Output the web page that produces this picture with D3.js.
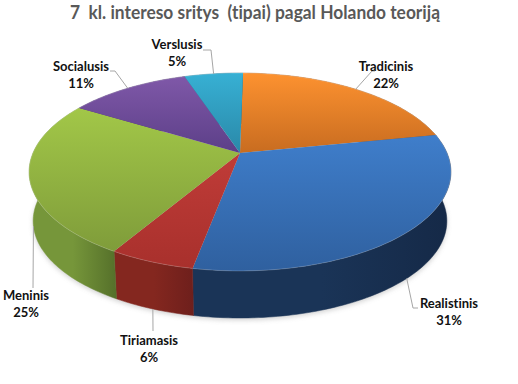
<!DOCTYPE html>
<html>
<head>
<meta charset="utf-8">
<script src="https://cdn.jsdelivr.net/npm/d3@7/dist/d3.min.js"></script>
<style>
	html, body { margin: 0; padding: 0; background: #fff; }
	svg { display: block; }
	text { font-family: Lato, "Open Sans", sans-serif; font-variant-ligatures: none; white-space: pre; }
	.title { font-size: 18.4px; font-weight: 700; fill: #595959; text-anchor: middle; }
	.label { font-size: 13px; font-weight: 700; fill: #111; text-anchor: middle; }
	.leader { fill: none; stroke: #a6a6a6; stroke-width: 1; }
</style>
</head>
<body>
<div id="chart"></div>
<script>
const title = '7  kl. intereso sritys  (tipai) pagal Holando teoriją';
const categories = ['Tradicinis', 'Realistinis', 'Tiriamasis', 'Meninis', 'Socialusis', 'Verslusis'];
const values = [21.6, 31.1, 5.5, 25.2, 11.2, 5.4];

// top gradient start, top gradient end, wall dark, wall light
const slice_colors = [
	['#fd9230', '#c86c20', '#8a4a14', '#a65a1a'],
	['#3f7ecb', '#2f609f', '#152947', '#1a3457'],
	['#c03c38', '#a8302c', '#6e1f1c', '#84271f'],
	['#a2c748', '#7f9c3a', '#55702a', '#76963a'],
	['#7f58a8', '#5c3f88', '#3e2a5c', '#4e3672'],
	['#37b0d4', '#2a88a8', '#1c5d74', '#257a94']
];

// label centre and the elbow of the leader line, in page pixels
const label_layout = [
	{x: 386, y: 71, elbow: [[372, 71], [375, 71]]},
	{x: 449, y: 308, elbow: [[413, 308], [418, 308]]},
	{x: 149, y: 345, elbow: [[153, 331]]},
	{x: 26, y: 300, elbow: [[33, 288]]},
	{x: 81, y: 71, elbow: [[115, 71], [110, 71]]},
	{x: 177, y: 49, elbow: [[211, 50], [203, 50]]}
];

const WIDTH = 518;
const HEIGHT = 384;
const START_ANGLE = Math.PI / 180;

// perspective of the pie disc: the apex sits above the centre of the rim ellipse
const PERSPECTIVE = 0.192;
const disc_top = {cx: 240, apex_y: 153, fx: 207, fy: 95.3};
const disc_bottom = {cx: 240, apex_y: 202.4, fx: 203, fy: 93.4};

const svg = d3.select('#chart')
	.append('svg')
	.attr('width', WIDTH)
	.attr('height', HEIGHT);

const defs = svg.append('defs');

defs.append('filter')
	.attr('id', 'shadow')
	.attr('x', '-10%')
	.attr('y', '-10%')
	.attr('width', '120%')
	.attr('height', '120%')
	.append('feGaussianBlur')
	.attr('stdDeviation', 2.5);

/**
 * Project an angle on the disc rim (clockwise from the back of the disc) to the page.
 *
 * @param {Object} disc
 * @param {number} angle
 * @param {number} radius  0 is the apex, 1 the rim.
 *
 * @returns {Array}
 */
function project(disc, angle, radius = 1) {
	const u = Math.sin(angle) * radius;
	const v = -Math.cos(angle) * radius;
	const w = 1 - PERSPECTIVE * v;

	return [disc.cx + disc.fx * u / w, disc.apex_y + disc.fy * v / w];
}

function rimPoints(disc, start, end) {
	const steps = Math.max(2, Math.ceil((end - start) / 0.02));

	return d3.range(steps + 1).map(i => project(disc, start + (end - start) * i / steps));
}

function addGradient(id, coords, stops) {
	const gradient = defs.append('linearGradient')
		.attr('id', id)
		.attr('gradientUnits', 'userSpaceOnUse')
		.attr('x1', coords[0])
		.attr('y1', coords[1])
		.attr('x2', coords[2])
		.attr('y2', coords[3]);

	stops.forEach(([offset, color]) => {
		gradient.append('stop')
			.attr('offset', offset)
			.attr('stop-color', color);
	});
}

const line = d3.line();

const slices = d3.pie()
	.sort(null)
	.startAngle(START_ANGLE)
	.endAngle(START_ANGLE + Math.PI * 2)(values);

// soft shadow under the front of the disc
svg.append('path')
	.attr('d', line(rimPoints(disc_bottom, 0, Math.PI * 2)) + 'Z')
	.attr('transform', 'translate(0 2)')
	.attr('fill', '#8c8c8c')
	.attr('opacity', 0.4)
	.attr('filter', 'url(#shadow)');

const walls = svg.append('g');
const tops = svg.append('g');
const leaders = svg.append('g');
const labels = svg.append('g');

// walls go first, the top surface hides whatever is behind the disc
slices.forEach((slice, index) => {
	const colors = slice_colors[index];
	const top_rim = rimPoints(disc_top, slice.startAngle, slice.endAngle);
	const bottom_rim = rimPoints(disc_bottom, slice.startAngle, slice.endAngle).reverse();
	const extent_x = d3.extent(top_rim.concat(bottom_rim), d => d[0]);
	const extent_y = d3.extent(top_rim, d => d[1]);

	addGradient(`wall-${index}`, [extent_x[0], 0, extent_x[1], 0], [
		[0, colors[3]],
		[0.5, colors[3]],
		[1, colors[2]]
	]);

	addGradient(`top-${index}`, [0, Math.min(extent_y[0], disc_top.apex_y), 0, Math.max(extent_y[1], disc_top.apex_y)], [
		[0, colors[0]],
		[1, colors[1]]
	]);

	walls.append('path')
		.attr('d', line(top_rim.concat(bottom_rim)) + 'Z')
		.attr('fill', `url(#wall-${index})`)
		.attr('stroke', `url(#wall-${index})`)
		.attr('stroke-width', 0.5);

	tops.append('path')
		.attr('d', line([project(disc_top, 0, 0)].concat(top_rim)) + 'Z')
		.attr('fill', `url(#top-${index})`);

	// thin highlight where the top surface meets the wall
	tops.append('path')
		.attr('d', line(top_rim))
		.attr('fill', 'none')
		.attr('stroke', '#fff')
		.attr('stroke-opacity', 0.18)
		.attr('stroke-width', 1);

	const mid_angle = (slice.startAngle + slice.endAngle) / 2;
	const layout = label_layout[index];
	const in_front = Math.cos(mid_angle) < 0;
	const anchor = project(in_front ? disc_bottom : disc_top, mid_angle);

	leaders.append('path')
		.attr('class', 'leader')
		.attr('d', line([anchor].concat(layout.elbow)));

	const label = labels.append('text')
		.attr('class', 'label')
		.attr('x', layout.x)
		.attr('y', layout.y);

	label.append('tspan')
		.attr('x', layout.x)
		.text(categories[index]);

	label.append('tspan')
		.attr('x', layout.x)
		.attr('dy', 17)
		.text(`${Math.round(values[index])}%`);
});

svg.append('text')
	.attr('class', 'title')
	.attr('x', 255)
	.attr('y', 19)
	.attr('textLength', 370)
	.attr('lengthAdjust', 'spacingAndGlyphs')
	.text(title);
</script>
</body>
</html>
